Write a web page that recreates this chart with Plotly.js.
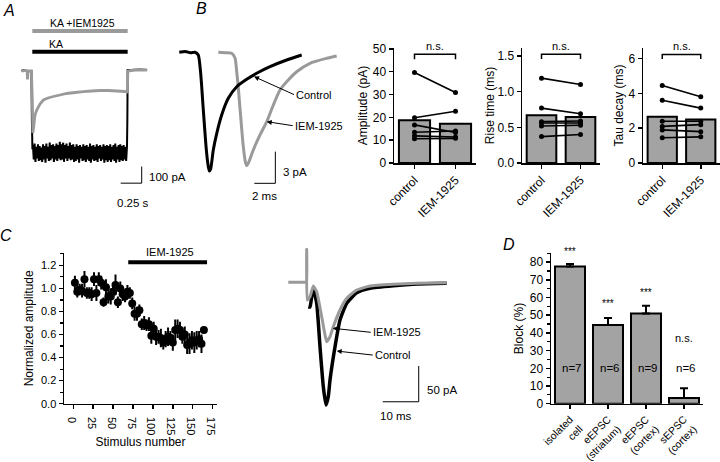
<!DOCTYPE html>
<html><head><meta charset="utf-8">
<script src="https://cdn.plot.ly/plotly-3.0.1.min.js"></script>
<style>html,body{margin:0;padding:0;background:#fff}#chart{width:720px;height:462px}</style>
</head><body><div id="chart"></div>
<script>
// ================= DATA =================
// Panel A: KA-evoked currents (time s, current pA)
const aGrayT = [-0.005, 0.04, 0.060, 0.066, 0.072, 0.112, 0.123, 0.129, 0.137, 0.155, 0.175, 0.214, 0.254, 0.31, 0.373, 0.452, 0.532, 0.631, 0.730, 0.830, 0.929, 1.027, 1.127, 1.226, 1.254, 1.260, 1.345, 1.488];
const aGrayI = [0, 4, 0, -50, 0, 0, -174, -372, -342, -264, -234, -198, -174, -162, -153, -144, -135, -129, -124, -120, -117, -117, -120, -123, -126, 0, 6, 6];
const aBlackStartT = [-0.005, 0.02, 0.06, 0.112, 0.118, 0.124];
const aBlackStartI = [0, 6, 0, 0, -300, -470];
const aNoiseT0 = 0.13, aNoiseDt = 0.01;
const aBlackNoiseI = [
 -445,-530,-435,-545,-455,-525,-440,-540,-450,-535,
 -460,-545,-440,-530,-450,-550,-435,-525,-455,-540,
 -430,-535,-445,-525,-440,-545,-450,-530,-435,-540,
 -445,-525,-425,-535,-440,-530,-430,-545,-445,-525,
 -435,-540,-450,-525,-430,-535,-445,-530,-440,-545,
 -455,-540,-440,-530,-450,-550,-445,-525,-455,-540,
 -440,-535,-450,-545,-445,-530,-455,-540,-435,-550,
 -450,-530,-445,-540,-455,-535,-440,-545,-450,-525,
 -445,-540,-455,-530,-440,-550,-450,-535,-445,-545,
 -450,-535,-440,-545,-455,-530,-445,-540,-435,-550,
 -455,-530,-445,-545,-440,-535,-450,-540,-445,-530,
 -455,-540,-450];
const aBlackEndT = [1.254, 1.258, 1.30, 1.40, 1.49];
const aBlackEndI = [-300, 6, 6, 9, 6];

// Panel B: averaged sEPSCs (time ms, current pA)
const bCtrlT = [-0.07, 0.5, 1.0, 1.43, 1.74, 1.97, 2.22, 2.48, 2.67, 2.79, 2.92, 3.17, 3.50, 3.97, 4.60, 5.40, 6.35, 7.30, 8.57, 10.16, 11.59];
const bCtrlI = [0, 0.08, -0.05, 0, -0.26, -1.99, -5.46, -8.94, -10.67, -11.24, -11.05, -9.25, -7.67, -5.94, -4.36, -3.26, -2.56, -1.99, -1.36, -0.73, -0.26];
const bIemT = [3.65, 4.29, 4.92, 5.24, 5.40, 5.55, 5.78, 6.03, 6.22, 6.35, 6.52, 6.98, 7.62, 8.26, 8.89, 9.52, 10.31, 11.11, 12.38, 13.97, 14.92];
const bIemI = [0, -0.05, -0.09, -0.54, -1.84, -3.31, -6.10, -8.94, -10.36, -10.74, -10.48, -9.25, -7.83, -6.57, -4.99, -3.57, -2.62, -1.84, -1.04, -0.57, -0.35];

// Panel B bar charts
const barCats = ['control', 'IEM-1925'];
const ampMeans = [18.7, 17.2];
const ampCtrl = [39.7, 19.8, 16.7, 13.5, 11.9, 10.6];
const ampIem  = [30.9, 22.7, 13.4, 14.0, 11.4, 10.8];
const riseMeans = [0.67, 0.645];
const riseCtrl = [1.19, 0.77, 0.58, 0.56, 0.52, 0.37];
const riseIem  = [1.10, 0.69, 0.59, 0.56, 0.53, 0.40];
const tauMeans = [2.65, 2.5];
const tauCtrl = [4.45, 3.6, 2.4, 2.1, 1.9, 1.45];
const tauIem  = [3.8, 3.15, 2.4, 2.2, 1.8, 1.5];

// Panel C: normalized eEPSC amplitude vs stimulus number
const cStim = [2,5,8,11,14,17,20,23,26,29,32,35,38,41,44,47,50,53,56,59,62,65,68,71,74,77,80,83,86,89,92,95,98,101,104,107,110,113,116,119,122,125,128,131,134,137,140,143,146,149,152,155,158,161,164];
const cAmp = [1.05,0.97,0.99,0.98,1.08,0.96,0.96,0.95,1.08,0.96,
              1.08,1.05,0.88,1.01,0.93,0.93,0.97,1.03,0.88,1.00,
              0.95,0.93,0.97,0.96,0.87,0.78,0.78,0.81,0.69,0.70,
              0.68,0.69,0.59,0.65,0.58,0.58,0.57,0.53,0.56,0.58,
              0.57,0.53,0.64,0.65,0.64,0.58,0.60,0.51,0.52,0.55,
              0.53,0.55,0.56,0.52,0.64];
const cErr = [0.06,0.05,0.05,0.06,0.07,0.05,0.05,0.06,0.06,0.07,
              0.06,0.06,0.04,0.07,0.06,0.07,0.06,0.09,0.05,0.06,
              0.06,0.05,0.06,0.05,0.05,0.06,0.06,0.05,0.05,0.06,
              0.05,0.06,0.07,0.06,0.07,0.06,0.08,0.06,0.07,0.08,
              0.06,0.07,0.09,0.08,0.07,0.06,0.07,0.08,0.09,0.08,
              0.09,0.08,0.07,0.08,0.03];
const cDrugStart = 69, cDrugEnd = 168;

// Panel C right: eEPSC traces (time ms, current pA)
const cIemT = [0.08, 4.72, 5.14, 5.19, 5.33, 6.11, 7.03, 7.97, 9.36, 10.28, 10.75, 11.67, 12.58, 14.44, 16.31, 19.08, 22.78, 29.25, 35.75, 44.08];
const cIemI = [0, 0, 0, 46.3, -24.8, -20.2, -5.2, -13.2, -48.2, -73.9, -83.3, -76.3, -62.3, -38.8, -22.4, -10.8, -5.2, -2.8, -1.4, -0.6];
const cCtrlT = [5.64, 6.11, 6.53, 7.03, 7.97, 8.89, 9.81, 10.56, 11.19, 11.67, 13.06, 14.44, 16.31, 19.08, 22.78, 29.25, 35.75, 44.08];
const cCtrlI = [-34.2, -34.6, -22, -8.4, -29.5, -90.3, -146.4, -172.1, -160.4, -137.0, -90.3, -52.9, -29.5, -14.6, -8.4, -4.8, -2.4, -1.4];

// Panel D: block (%)
const dCats = ['isolated<br>cell', 'eEPSC<br>(striatum)', 'eEPSC<br>(cortex)', 'sEPSC<br>(cortex)'];
const dBlock = [77.5, 44.5, 51, 3.2];
const dErrUp = [1.5, 4, 4.3, 5.5];
const dErrDown = [0, 0, 0, 0];
const dSig = ['***', '***', '***', 'n.s.'];
const dN = ['n=7', 'n=6', 'n=9', 'n=6'];

// ================= LAYOUT HELPERS =================
const W = 720, H = 462;
const FONT = 'Liberation Sans, Arial, Helvetica, sans-serif';
const PX = x => x / W, PY = y => 1 - y / H;
const dxp = (a, b) => [PX(a), PX(b)];
const dyp = (top, bot) => [PY(bot), PY(top)];
const GRAY = '#a3a3a3', TRACEGRAY = '#9a9a9a';

const hidden = (dom, range, anchor) => ({domain: dom, range: range, visible: false, fixedrange: true, anchor: anchor});

const aNoiseT = aBlackNoiseI.map((_, i) => +(aNoiseT0 + i * aNoiseDt).toFixed(3));
const aBlackT = aBlackStartT.concat(aNoiseT, aBlackEndT);
const aBlackI = aBlackStartI.concat(aBlackNoiseI, aBlackEndI);

const traces = [];
// Panel A
traces.push({x: aBlackT, y: aBlackI, xaxis: 'x', yaxis: 'y', mode: 'lines', line: {color: '#000', width: 2, simplify: false}, hoverinfo: 'skip'});
traces.push({x: aGrayT, y: aGrayI, xaxis: 'x', yaxis: 'y', mode: 'lines', line: {color: TRACEGRAY, width: 2.8, simplify: false}, hoverinfo: 'skip'});
// Panel B traces
traces.push({x: bIemT, y: bIemI, xaxis: 'x2', yaxis: 'y2', mode: 'lines', line: {color: TRACEGRAY, width: 3, shape: 'spline', smoothing: 0.6}});
traces.push({x: bCtrlT, y: bCtrlI, xaxis: 'x2', yaxis: 'y2', mode: 'lines', line: {color: '#000', width: 3, shape: 'spline', smoothing: 0.6}});

// bar panels
function barPanel(ax, means, ctrl, iem) {
  traces.push({type: 'bar', x: [0, 1], y: means, width: 0.76, xaxis: 'x' + ax, yaxis: 'y' + ax,
    marker: {color: GRAY, line: {color: '#000', width: 2}}});
  for (let i = 0; i < ctrl.length; i++) {
    traces.push({x: [0, 1], y: [ctrl[i], iem[i]], xaxis: 'x' + ax, yaxis: 'y' + ax, mode: 'lines+markers',
      line: {color: '#000', width: 1.6}, marker: {color: '#000', size: 5}});
  }
}
barPanel(3, ampMeans, ampCtrl, ampIem);
barPanel(4, riseMeans, riseCtrl, riseIem);
barPanel(5, tauMeans, tauCtrl, tauIem);

// Panel C scatter
traces.push({x: cStim, y: cAmp, xaxis: 'x6', yaxis: 'y6', mode: 'markers',
  marker: {color: '#000', size: 8},
  error_y: {type: 'data', array: cErr, color: '#000', thickness: 2, width: 0}});
// Panel C traces
traces.push({x: cCtrlT, y: cCtrlI, xaxis: 'x7', yaxis: 'y7', mode: 'lines', line: {color: '#000', width: 3.5, shape: 'spline', smoothing: 0.5}});
traces.push({x: cIemT, y: cIemI, xaxis: 'x7', yaxis: 'y7', mode: 'lines', line: {color: TRACEGRAY, width: 3, shape: 'spline', smoothing: 0.4}});
// Panel D bars
traces.push({type: 'bar', x: [0, 1, 2, 3], y: dBlock, width: 0.79, xaxis: 'x8', yaxis: 'y8',
  marker: {color: GRAY, line: {color: '#000', width: 2}},
  error_y: {type: 'data', symmetric: false, array: dErrUp, arrayminus: dErrDown, color: '#000', thickness: 2, width: 4}});

const axBase = {showline: true, linecolor: '#000', linewidth: 1.5, ticks: 'outside', ticklen: 4, tickwidth: 1.5,
  tickcolor: '#000', showgrid: false, zeroline: false, fixedrange: true, tickfont: {size: 12, color: '#000'}};

function barAxes(xd, yr, dtick, fmt, title, standoff) {
  return [
    Object.assign({}, axBase, {domain: dxp(xd[0], xd[1]), range: [-0.5, 1.5], tickvals: [0, 1], ticktext: barCats, tickangle: -45}),
    Object.assign({}, axBase, {domain: dyp(48, 163), range: yr, dtick: dtick, tickformat: fmt,
      title: {text: title, font: {size: 12, color: '#000'}, standoff: standoff}})
  ];
}
const [x3, y3] = barAxes([394, 476], [0, 50.4], 10, 'd', 'Amplitude (pA)', 2);
const [x4, y4] = barAxes([522, 600], [0, 1.613], 0.5, '.1f', 'Rise time (ms)', 0);
const [x5, y5] = barAxes([643, 720], [0, 6.6], 2, 'd', 'Tau decay (ms)', 2);
x3.anchor = 'y3'; y3.anchor = 'x3'; x4.anchor = 'y4'; y4.anchor = 'x4'; x5.anchor = 'y5'; y5.anchor = 'x5';

const layout = {
  width: W, height: H, margin: {l: 0, r: 0, t: 0, b: 0}, paper_bgcolor: '#fff', plot_bgcolor: 'rgba(0,0,0,0)',
  showlegend: false, font: {family: FONT, color: '#000', size: 11}, bargap: 0,
  xaxis: hidden(dxp(15, 165), [-0.08333, 1.70238], 'y'),
  yaxis: hidden(dyp(15, 210), [-834, 336], 'x'),
  xaxis2: hidden(dxp(175, 345), [-0.476, 15.714], 'y2'),
  yaxis2: hidden(dyp(40, 200), [-13.99, 1.165], 'x2'),
  xaxis3: x3, yaxis3: y3, xaxis4: x4, yaxis4: y4, xaxis5: x5, yaxis5: y5,
  xaxis6: Object.assign({}, axBase, {domain: dxp(64, 217), range: [-11.7, 180.5], tickvals: [0,25,50,75,100,125,150,175], anchor: 'y6',
    tickfont: {size: 11, color: '#000'}, title: {text: 'Stimulus number', font: {size: 12, color: '#000'}, standoff: 0}}),
  yaxis6: Object.assign({}, axBase, {domain: dyp(253, 403.7), range: [0, 1.307], dtick: 0.2, tickformat: '.1f', anchor: 'x6',
    tickfont: {size: 11, color: '#000'}, minor: {dtick: 0.1, ticks: 'outside', ticklen: 3, tickcolor: '#000', tickwidth: 1.2},
    title: {text: 'Normalized amplitude', font: {size: 12, color: '#000'}, standoff: 5}}),
  xaxis7: hidden(dxp(280, 455), [-2.222, 46.389], 'y7'),
  yaxis7: hidden(dyp(240, 425), [-200.1, 59.33], 'x7'),
  xaxis8: Object.assign({}, axBase, {domain: dxp(551, 703), range: [-0.5, 3.5], tickvals: [0,1,2,3], ticktext: dCats, tickangle: -45, anchor: 'y8',
    tickfont: {size: 10.5, color: '#000'}}),
  yaxis8: Object.assign({}, axBase, {domain: dyp(253.3, 403.7), range: [0, 85], dtick: 10, anchor: 'x8',
    minor: {dtick: 5, ticks: 'outside', ticklen: 3, tickcolor: '#000', tickwidth: 1.2},
    title: {text: 'Block (%)', font: {size: 12, color: '#000'}, standoff: 3}}),
  shapes: [], annotations: []
};

const S = layout.shapes, A = layout.annotations;
const line = (xr, yr, x0, y0, x1, y1, color, w) => S.push({type: 'line', xref: xr, yref: yr, x0, y0, x1, y1, line: {color, width: w}});
// Panel A application bars and scale bar
line('x', 'y', 0.1226, 240, 1.258, 240, TRACEGRAY, 4);
line('x', 'y', 0.1226, 116, 1.258, 116, '#000', 4);
line('x', 'y', 1.425, -573, 1.425, -673, '#000', 1);
line('x', 'y', 1.175, -673, 1.425, -673, '#000', 1);
// Panel B scale bar
line('x2', 'y2', 9.08, -9.41, 9.08, -12.41, '#000', 1);
line('x2', 'y2', 7.08, -12.41, 9.08, -12.41, '#000', 1);
// n.s. brackets
S.push({type: 'path', xref: 'x3', yref: 'y3', path: 'M 0,45.5 L 0,47.7 L 1,47.7 L 1,45.5', line: {color: '#000', width: 1.5}});
S.push({type: 'path', xref: 'x4', yref: 'y4', path: 'M 0,1.46 L 0,1.525 L 1,1.525 L 1,1.46', line: {color: '#000', width: 1.5}});
S.push({type: 'path', xref: 'x5', yref: 'y5', path: 'M 0,5.97 L 0,6.23 L 1,6.23 L 1,5.97', line: {color: '#000', width: 1.5}});
// Panel C drug bar
line('x6', 'y6', cDrugStart, 1.226, cDrugEnd, 1.226, '#000', 4);
// Panel C right scale bar
line('x7', 'y7', 36.31, -117.4, 36.31, -167.5, '#000', 1);
line('x7', 'y7', 26.31, -167.5, 36.31, -167.5, '#000', 1);

const txt = (text, x, y, size, xanchor, extra) => A.push(Object.assign({text, xref: 'paper', yref: 'paper', x: PX(x), y: PY(y),
  xanchor: xanchor || 'center', yanchor: 'middle', showarrow: false, font: {size: size, color: '#000', family: FONT}}, extra || {}));
txt('<i>A</i>', 9, 10, 16);
txt('<i>B</i>', 201, 9, 16);
txt('<i>C</i>', 6, 235, 16);
txt('<i>D</i>', 509, 244, 16);
txt('KA +IEM1925', 82, 23, 10.5);
txt('KA', 47, 44, 10.5, 'left');
txt('100 pA', 147, 177, 11.5, 'left');
txt('0.25 s', 133, 203, 11.5);
txt('3 pA', 281, 172, 11.5, 'left');
txt('2 ms', 264, 196, 11.5);
txt('IEM-1925', 170, 252, 11);
txt('50 pA', 425, 390, 11.5, 'left');
txt('10 ms', 396, 416, 11.5);

const arrow = (text, xr, yr, x, y, ax, ay) => A.push({text, xref: xr, yref: yr, x, y, ax, ay, showarrow: true,
  arrowhead: 2, arrowsize: 1, arrowwidth: 1, arrowcolor: '#000', xanchor: 'left', yanchor: 'middle',
  font: {size: 11, color: '#000', family: FONT}});
arrow('Control', 'x2', 'y2', 7.05, -2.3, 40, 18);
arrow('IEM-1925', 'x2', 'y2', 8.26, -6.57, 26, 4);
arrow('IEM-1925', 'x7', 'y7', 12.42, -64.5, 38, 4);
arrow('Control', 'x7', 'y7', 13.53, -96.4, 36, 4);

// n.s. over bar panels (x in data, y in paper)
['x3', 'x4', 'x5'].forEach(xr =>
  A.push({text: 'n.s.', xref: xr, yref: 'paper', x: 0.5, y: PY(46), yanchor: 'middle', showarrow: false, font: {size: 11, color: '#000', family: FONT}}));
// Panel D labels
const dSigPx = [252, 303, 292.5, 338];
dSig.forEach((s, i) => A.push({text: s, xref: 'x8', yref: 'paper', x: i, y: PY(dSigPx[i]), yanchor: 'middle', showarrow: false,
  font: {size: s === 'n.s.' ? 11 : 10, color: '#000', family: FONT}}));
dN.forEach((s, i) => A.push({text: s, xref: 'x8', yref: 'paper', x: i + 0.05, y: PY(368), yanchor: 'middle', showarrow: false,
  font: {size: 11.5, color: '#000', family: FONT}}));

Plotly.newPlot('chart', traces, layout, {staticPlot: true, displayModeBar: false});
</script>
</body></html>
